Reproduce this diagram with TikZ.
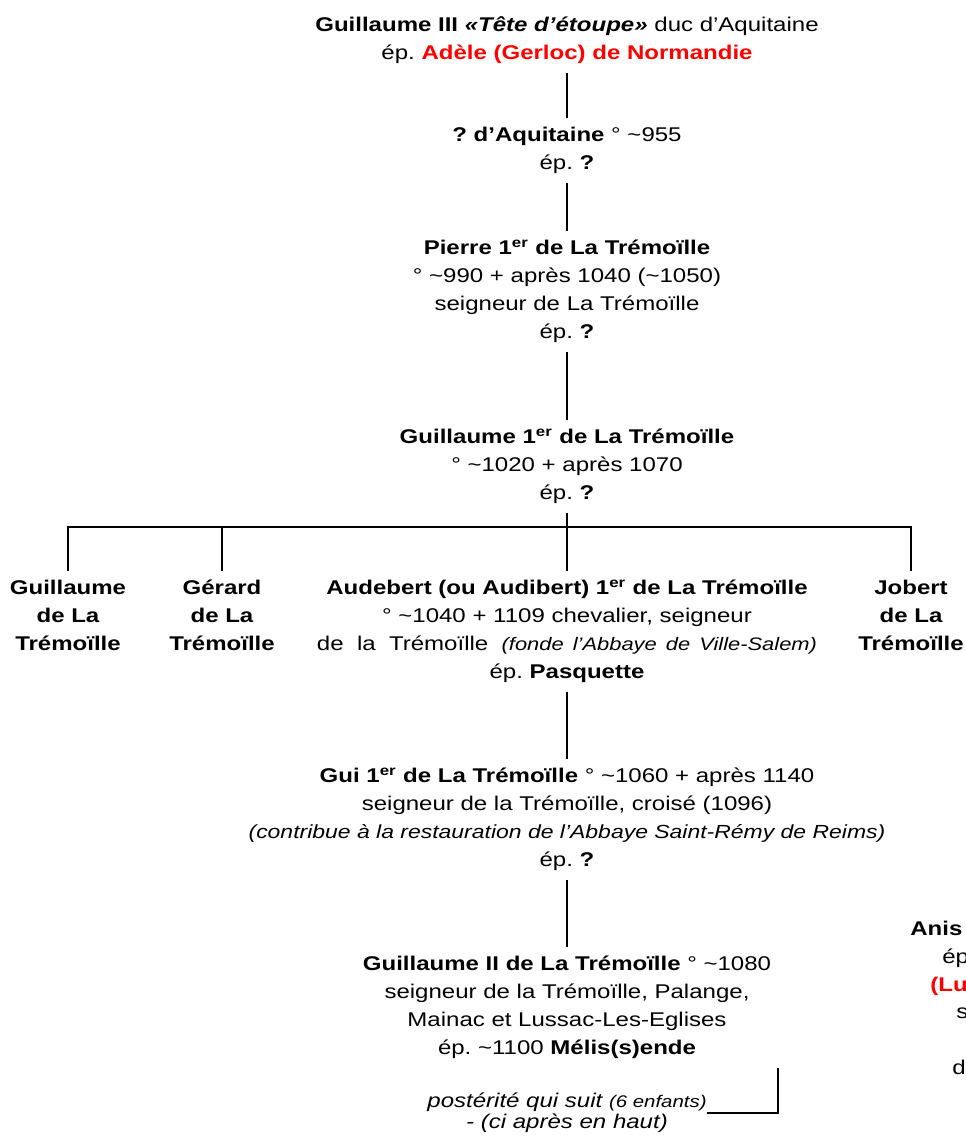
\documentclass[tikz,border=0pt]{standalone}
\usepackage{fontspec}
\setmainfont{Liberation Sans}[FakeStretch=1.21]
\usepackage{xcolor}
\frenchspacing

\definecolor{rouge}{RGB}{255,0,0}
\newcommand{\prem}{1\textsuperscript{er}}
\newcommand{\env}{\textasciitilde}
\newcommand{\pti}[1]{{\fontsize{9.6pt}{12pt}\selectfont\itshape #1}}

\tikzset{
  pers/.style={anchor=north, align=center, inner xsep=0pt, inner ysep=5pt,
    font=\fontsize{11.3pt}{15.9pt}\selectfont},
  bout/.style={anchor=base west, inner sep=0pt, font=\fontsize{11.3pt}{15.9pt}\selectfont},
  trait/.style={line width=1.1pt}
}

\begin{document}
\begin{tikzpicture}[x=0.02cm, y=-0.02cm]
    \useasboundingbox (0, 0) rectangle (965, 1136);
    \clip (0, 0) rectangle (965, 1136);
    \node[pers] (g3) at (567, 8) {\textbf{Guillaume III \textit{«Tête d’étoupe»}} duc d’Aquitaine\\
      ép. \textbf{\color{rouge}Adèle (Gerloc) de Normandie}};
    \node[pers] (aq) at (567, 118) {\textbf{? d’Aquitaine} ° \env955\\ ép. \textbf{?}};
    \node[pers] (p1) at (567, 231) {\textbf{Pierre \prem{} de La Trémoïlle}\\
      ° \env990 + après 1040 (\env1050)\\ seigneur de La Trémoïlle\\ ép. \textbf{?}};
    \node[pers] (g1) at (567, 420) {\textbf{Guillaume \prem{} de La Trémoïlle}\\
      ° \env1020 + après 1070\\ ép. \textbf{?}};
    \node[pers, font=\bfseries\fontsize{11.3pt}{15.9pt}\selectfont] (gw) at (68, 571) {Guillaume\\ de La\\ Trémoïlle};
    \node[pers, font=\bfseries\fontsize{11.3pt}{15.9pt}\selectfont] (ge) at (222, 571) {Gérard\\ de La\\ Trémoïlle};
    \node[pers] (aud) at (567, 571) {\textbf{Audebert (ou Audibert) \prem{} de La Trémoïlle}\\
      ° \env1040 + 1109 chevalier, seigneur\\
      de \ la \ Trémoïlle \ {\fontsize{10.3pt}{15.9pt}\selectfont\itshape (fonde \,l’Abbaye \,de \,Ville-Salem)}\\ ép. \textbf{Pasquette}};
    \node[pers, font=\bfseries\fontsize{11.3pt}{15.9pt}\selectfont] (jo) at (911, 571) {Jobert\\ de La\\ Trémoïlle};
    \node[pers] (gui) at (567, 759) {\textbf{Gui \prem{} de La Trémoïlle} ° \env1060 + après 1140\\
      seigneur de la Trémoïlle, croisé (1096)\\
      {\fontsize{10.8pt}{15.9pt}\selectfont\itshape (contribue à la restauration de l’Abbaye Saint-Rémy de Reims)}\\ ép. \textbf{?}};
    \node[pers] (g2) at (567, 947) {\textbf{Guillaume II de La Trémoïlle} ° \env1080\\
      seigneur de la Trémoïlle, Palange,\\ Mainac et Lussac-Les-Eglises\\
      ép. \env1100 \textbf{Mélis(s)ende}};
    \node[pers, font=\itshape\fontsize{11.3pt}{12pt}\selectfont] (post) at (567, 1084) {postérité qui suit \pti{(6 enfants)}\\
      - (ci après en haut)};
    % branche coupee a droite
    \node[bout] (an1) at (910, 935) {\textbf{Anis}};
    \node[bout] (an2) at (942, 963) {ép};
    \node[bout] (an3) at (930, 991) {\textbf{\color{rouge}(Lu}};
    \node[bout] (an4) at (956, 1018) {s};
    \node[bout] (an5) at (952, 1074) {d};
    \coordinate (barre) at (567, 527);
    \coordinate (coin) at (778, 1113);
    \draw [trait] (g3) to (aq);
    \draw [trait] (aq) to (p1);
    \draw [trait] (p1) to (g1);
    \draw [trait] (g1) to (aud);
    \draw [trait] (gw.north) |- (barre) -| (jo.north);
    \draw [trait] (ge.north) to (ge.north |- barre);
    \draw [trait] (aud) to (gui);
    \draw [trait] (gui) to (g2);
    \draw [trait] (coin |- g2.south) -- (coin) -- (post.east |- coin);
  \end{tikzpicture}
\end{document}
